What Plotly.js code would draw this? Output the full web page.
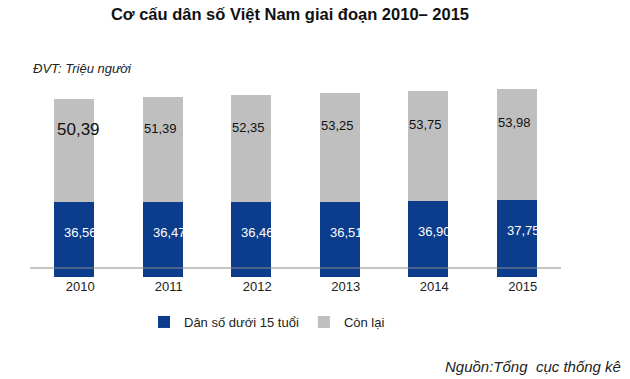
<!DOCTYPE html>
<html>
<head>
<meta charset="utf-8">
<script src="https://cdn.plot.ly/plotly-3.0.1.min.js"></script>
<style>html,body{margin:0;padding:0;background:#fff;}#chart{width:630px;height:379px;}</style>
</head>
<body>
<div id="chart"></div>
<script>
const years = ['2010', '2011', '2012', '2013', '2014', '2015'];
const under15 = [36.56, 36.47, 36.46, 36.51, 36.9, 37.75];
const others = [50.39, 51.39, 52.35, 53.25, 53.75, 53.98];
const seriesNames = ['Dân số dưới 15 tuổi', 'Còn lại'];

const fmt = v => v.toFixed(2).replace('.', ',');
const FONT = 'Liberation Sans, Arial, sans-serif';
const BLUE = '#0b3d8c';
const GREY = '#bfbfbf';

const traces = [
  {type: 'bar', name: seriesNames[0], x: years, y: under15, marker: {color: BLUE}, hoverinfo: 'skip'},
  {type: 'bar', name: seriesNames[1], x: years, y: others, marker: {color: GREY}, hoverinfo: 'skip'}
];

const annotations = [];
years.forEach((yr, i) => {
  annotations.push({
    x: i, y: under15[i] * 0.6, xref: 'x', yref: 'y',
    text: fmt(under15[i]), showarrow: false, xanchor: 'left', yanchor: 'middle',
    xshift: -12, font: {family: FONT, size: 13, color: '#ffffff'}
  });
  annotations.push({
    x: i, y: under15[i] + others[i] * 0.7, xref: 'x', yref: 'y',
    text: fmt(others[i]), showarrow: false, xanchor: 'left', yanchor: 'middle',
    xshift: i === 0 ? -19 : -21, font: {family: FONT, size: i === 0 ? 17 : 13, color: '#111111'}
  });
});
annotations.push({
  xref: 'paper', yref: 'paper', x: 0, y: (379 - 68 - 102) / 205, xanchor: 'left', yanchor: 'middle',
  xshift: 1, text: '<i>ĐVT: Triệu người</i>', showarrow: false,
  font: {family: FONT, size: 13, color: '#222222'}
});
annotations.push({
  xref: 'paper', yref: 'paper', x: 1, y: (379 - 366 - 102) / 205, xanchor: 'right', yanchor: 'middle',
  xshift: 62, text: '<i>Nguồn:Tổng  cục thống kê</i>', showarrow: false,
  font: {family: FONT, size: 15, color: '#222222'}
});

const layout = {
  width: 630, height: 379,
  margin: {l: 30, r: 69, t: 72, b: 102, pad: 0},
  paper_bgcolor: '#ffffff', plot_bgcolor: '#ffffff',
  barmode: 'stack', bargap: 0.548,
  font: {family: FONT, size: 13, color: '#222222'},
  title: {
    text: '<b>Cơ cấu dân số Việt Nam giai đoạn 2010– 2015</b>',
    x: 290 / 630, xanchor: 'center', xref: 'container',
    y: 1 - 14 / 379, yanchor: 'middle', yref: 'container',
    font: {family: FONT, size: 16.5, color: '#111111'}
  },
  xaxis: {
    type: 'category', range: [-0.5, 5.5], showline: false, showgrid: false, zeroline: false,
    ticks: '', ticklabelshift: 6, tickfont: {family: FONT, size: 13, color: '#222222'}
  },
  yaxis: {range: [0, 100], showticklabels: false, showline: false, showgrid: false, zeroline: false, ticks: ''},
  showlegend: true,
  legend: {
    orientation: 'h', xref: 'container', yref: 'container',
    x: 144 / 630, y: 1 - 322 / 379, xanchor: 'left', yanchor: 'middle',
    font: {family: FONT, size: 13, color: '#222222'}, traceorder: 'normal',
    itemwidth: 30, bgcolor: 'rgba(0,0,0,0)'
  },
  shapes: [{
    type: 'line', xref: 'paper', yref: 'paper', x0: 0, x1: 1, y0: 9 / 205, y1: 9 / 205,
    line: {color: '#8c8c8c', width: 1}, layer: 'above'
  }],
  annotations: annotations
};

Plotly.newPlot('chart', traces, layout, {staticPlot: true, displayModeBar: false});
</script>
</body>
</html>
